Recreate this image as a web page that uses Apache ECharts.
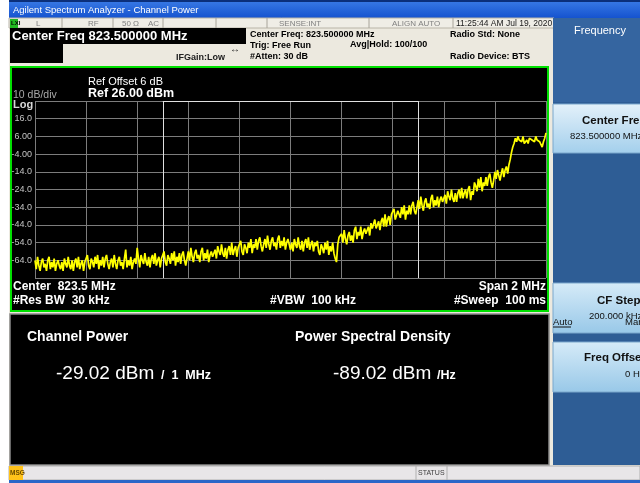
<!DOCTYPE html>
<html><head><meta charset="utf-8">
<script src="https://cdn.jsdelivr.net/npm/echarts@6/dist/echarts.min.js"></script>
<style>html,body{margin:0;padding:0;background:#fff;overflow:hidden}#c{width:640px;height:483px}</style>
</head><body><div id="c"></div>
<script>
// ---- data ----
const centerMHz = 823.5;
const spanKHz = 2000;           // x axis: offset from start frequency in kHz
const stepKHz = 5;
const refLevel = 26;            // dBm (top of grid)
const bottomLevel = -74;        // dBm (bottom of grid)
const yTickLabels = ['16.0','6.00','-4.00','-14.0','-24.0','-34.0','-44.0','-54.0','-64.0'];
const channelEdgesKHz = [500, 1500];
const traceDbm = [
 -64,-69,-62,-67,-70,-65,-63,-68,-66,-70,-64,-62,-69,-65,-68,-63,-70,-66,-64,-67,
 -69,-65,-70,-63,-66,-68,-62,-67,-69,-64,-70,-65,-63,-68,-62,-69,-66,-64,-70,-65,
 -64,-61,-67,-69,-63,-65,-68,-62,-66,-61,-69,-64,-67,-62,-68,-63,-61,-66,-69,-65,
 -63,-68,-61,-66,-69,-64,-62,-67,-65,-69,-63,-58,-68,-64,-67,-62,-69,-65,-63,-66,
 -57,-63,-68,-61,-64,-66,-60,-65,-67,-62,-68,-63,-61,-66,-60,-67,-64,-62,-68,-63,
 -62,-59,-65,-67,-61,-63,-66,-60,-64,-59,-67,-62,-65,-60,-66,-61,-59,-64,-67,-63,
 -59,-64,-57,-62,-65,-60,-58,-63,-61,-65,-59,-57,-64,-60,-63,-58,-65,-61,-59,-62,
 -62,-58,-63,-56,-59,-61,-55,-60,-62,-57,-63,-58,-56,-61,-54,-61,-58,-56,-62,-57,
 -56,-53,-59,-61,-55,-57,-60,-54,-57,-52,-60,-55,-57,-52,-58,-53,-51,-56,-59,-55,
 -52,-57,-50,-55,-58,-53,-51,-56,-54,-58,-52,-50,-57,-53,-56,-51,-58,-54,-52,-55,
 -58,-54,-59,-52,-55,-57,-51,-56,-58,-53,-59,-54,-52,-57,-51,-58,-55,-53,-59,-54,
 -56,-53,-59,-61,-55,-57,-60,-54,-58,-53,-61,-56,-59,-54,-60,-63,-65,-55,-51,-52,
 -49,-54,-47,-52,-55,-50,-48,-53,-50,-54,-47,-45,-52,-48,-50,-45,-52,-48,-46,-49,
 -49,-45,-50,-43,-46,-47,-41,-46,-47,-42,-47,-42,-40,-45,-38,-45,-41,-39,-44,-38,
 -38,-35,-41,-42,-36,-38,-40,-34,-38,-33,-41,-36,-38,-33,-38,-33,-31,-36,-38,-34,
 -30,-35,-28,-33,-36,-31,-29,-34,-32,-35,-29,-27,-34,-30,-33,-28,-34,-30,-28,-31,
 -31,-27,-32,-25,-28,-30,-24,-29,-31,-26,-31,-26,-24,-29,-23,-29,-26,-24,-29,-24,
 -22,-30,-25,-27,-20,-22,-25,-18,-23,-17,-25,-20,-22,-17,-22,-17,-15,-20,-23,-19,
 -14,-18,-13,-16,-19,-15,-12,-17,-13,-11,-15,-10,-7,-3,0,2,5,3,6,4,
 5,3,6,2,1,4,2,5,6,4,5,3,6,4,5,3,2,0,3,5,8
];
const headerTexts = {
  title: 'Agilent Spectrum Analyzer - Channel Power',
  centerFreq: 'Center Freq 823.500000 MHz',
  time: '11:25:44 AM Jul 19, 2020'
};
const channelPower = '-29.02 dBm';
const psd = '-89.02 dBm';

// ---- helpers ----
const F = '"Liberation Sans", Arial, sans-serif';
function R(x,y,w,h,fill,z,stroke,lw){return {type:'rect',z:z||1,silent:true,shape:{x:x,y:y,width:w,height:h},style:{fill:fill,stroke:stroke||null,lineWidth:lw||0}};}
function T(x,y,s,size,color,weight,align,z){return {type:'text',z:z||20,silent:true,x:x,y:y,style:{text:s,fontSize:size,fill:color,fontWeight:weight||'normal',fontFamily:F,align:align||'left',verticalAlign:'middle'}};}
function L(x1,y1,x2,y2,color,w,z){return {type:'line',z:z||10,silent:true,shape:{x1:x1,y1:y1,x2:x2,y2:y2},style:{stroke:color,lineWidth:w||1}};}
function grad(c1,c2){return {type:'linear',x:0,y:0,x2:0,y2:1,colorStops:[{offset:0,color:c1},{offset:1,color:c2}]};}

const g = [];
// base backgrounds
g.push(R(0,0,640,483,'#ffffff',0));
g.push(R(9,0,631,483,'#ece9df',0));
// title bar
g.push(R(9,0,631,18,grad('#3a7be6','#1553cf'),1));
g.push(R(9,0,631,2,'#0b2f7a',2));
g.push(T(13,10,headerTexts.title,9.5,'#ffffff','normal'));
// status row
g.push(R(9,18,545,10,'#efede6',1,'#b8b4a8',1));
g.push(R(10,19,8,9,'#22b822',2));
g.push(T(11,23.5,'LXI',6,'#000','bold'));
[62,113,163,216,267,369,453].forEach(x=>g.push(L(x,18,x,28,'#a8a49a',1,3)));
g.push(T(36,23.5,'L',8,'#808080'));
g.push(T(88,23.5,'RF',8,'#808080'));
g.push(T(122,23.5,'50 Ω',8,'#808080'));
g.push(T(148,23.5,'AC',8,'#808080'));
g.push(T(279,23.5,'SENSE:INT',8,'#808080'));
g.push(T(392,23.5,'ALIGN AUTO',8,'#808080'));
g.push(T(456,23.5,headerTexts.time,8.5,'#202020'));
// center freq black box
g.push(R(10,28,236,16,'#000000',2));
g.push(R(10,44,53,19,'#000000',2));
g.push(T(12,36.5,headerTexts.centerFreq,13,'#ffffff','bold'));
g.push(T(176,58,'IFGain:Low',9,'#202020','bold'));
g.push(T(235,49,'↔',10,'#202020','bold','center'));
g.push(T(250,35,'Center Freq: 823.500000 MHz',9,'#000','bold'));
g.push(T(250,46,'Trig: Free Run',9,'#000','bold'));
g.push(T(250,57,'#Atten: 30 dB',9,'#000','bold'));
g.push(T(350,45,'Avg|Hold: 100/100',9,'#000','bold'));
g.push(T(450,35,'Radio Std: None',9,'#000','bold'));
g.push(T(450,57,'Radio Device: BTS',9,'#000','bold'));
// main trace frame
g.push(R(11,67,537,244,'#000000',1,'#00e000',2));
g.push(T(88,82,'Ref Offset 6 dB',11,'#ffffff'));
g.push(T(88,94,'Ref 26.00 dBm',12.5,'#ffffff','bold'));
g.push(T(13,95,'10 dB/div',10.5,'#a8a8a8'));
g.push(T(13,105,'Log',11,'#d8d8d8','bold'));
g.push(T(13,287,'Center  823.5 MHz',12,'#ffffff','bold'));
g.push(T(546,287,'Span 2 MHz',12,'#ffffff','bold','right'));
g.push(T(13,301,'#Res BW  30 kHz',12,'#ffffff','bold'));
g.push(T(270,301,'#VBW  100 kHz',12,'#ffffff','bold'));
g.push(T(546,301,'#Sweep  100 ms',12,'#ffffff','bold','right'));
// measurement panel
g.push(R(10,314,539,151,'#000000',1,'#8a8a8a',1.5));
g.push(T(27,337,'Channel Power',14,'#ffffff','bold'));
g.push(T(56,374,channelPower,19,'#ffffff'));
g.push(T(161,376,'/  1  MHz',12.5,'#ffffff','bold'));
g.push(T(295,337,'Power Spectral Density',14,'#ffffff','bold'));
g.push(T(333,374,psd,19,'#ffffff'));
g.push(T(437,376,'/Hz',12.5,'#ffffff','bold'));
// right softkey panel
g.push(R(553,18,87,447,'#2e5d95',1));
g.push(R(553,18,87,84,'#3565a0',1));
g.push(T(600,31,'Frequency',11,'#ffffff','normal','center'));
g.push(R(553,104,90,49,grad('#e4f1fa','#a3cfec'),2,'#7aa7cc',1));
g.push(T(582,121,'Center Freq',11.5,'#111','bold'));
g.push(T(570,136,'823.500000 MHz',9.5,'#111'));
g.push(R(553,283,90,50,grad('#d6ebf8','#98c8e8'),2,'#7aa7cc',1));
g.push(T(597,301,'CF Step',11.5,'#111','bold'));
g.push(T(589,316,'200.000 kHz',9.5,'#111'));
g.push(T(553,322,'Auto',9.5,'#111'));
g.push(L(553,327,571,327,'#111',1,21));
g.push(T(625,322,'Man',9.5,'#111'));
g.push(R(553,342,90,50,grad('#d6ebf8','#98c8e8'),2,'#7aa7cc',1));
g.push(T(584,358,'Freq Offset',11.5,'#111','bold'));
g.push(T(625,374,'0 Hz',9.5,'#111'));
// bottom status bar
g.push(R(9,466,631,14,'#e8e6e8',1,'#b0b0b0',1));
g.push(R(9,466,14,14,'#ffc21a',2));
g.push(T(10,473,'MSG',6.5,'#6a4a00','bold'));
g.push(L(416,466,416,480,'#b0b0b0',1,3));
g.push(L(447,466,447,480,'#b0b0b0',1,3));
g.push(T(418,473,'STATUS',7,'#404040'));
g.push(R(9,480,631,3,'#2a66c8',2));

const chart = echarts.init(document.getElementById('c'), null, {renderer:'canvas'});
chart.setOption({
  animation:false,
  backgroundColor:'#ffffff',
  graphic:{elements:g},
  grid:{left:35,top:101,width:511,height:177,show:false,z:3},
  xAxis:{type:'value',min:0,max:spanKHz,interval:200,z:4,
    axisLine:{show:false},axisTick:{show:false},axisLabel:{show:false},
    splitLine:{show:true,lineStyle:{color:'#7c7c7c',width:1}}},
  yAxis:{type:'value',min:bottomLevel,max:refLevel,interval:10,z:4,
    axisLine:{show:false},axisTick:{show:false},
    axisLabel:{color:'#c4c4c4',fontSize:9,fontFamily:F,margin:3,
      formatter:function(v){const k=Math.round((refLevel-v)/10)-1;return (k>=0&&k<yTickLabels.length)?yTickLabels[k]:'';}},
    splitLine:{show:true,lineStyle:{color:'#7c7c7c',width:1}}},
  series:[{type:'line',z:6,showSymbol:false,symbol:'none',
    data:traceDbm.map((v,i)=>[i*stepKHz,v]),
    lineStyle:{color:'#ffff00',width:1.7},
    markLine:{silent:true,symbol:'none',label:{show:false},
      lineStyle:{color:'#e0e0e0',width:1,type:'solid'},
      data:[{xAxis:channelEdgesKHz[0]},{xAxis:channelEdgesKHz[1]},
        [{coord:[channelEdgesKHz[0],refLevel]},{coord:[channelEdgesKHz[1],refLevel]}]]}
  }]
});
</script></body></html>
